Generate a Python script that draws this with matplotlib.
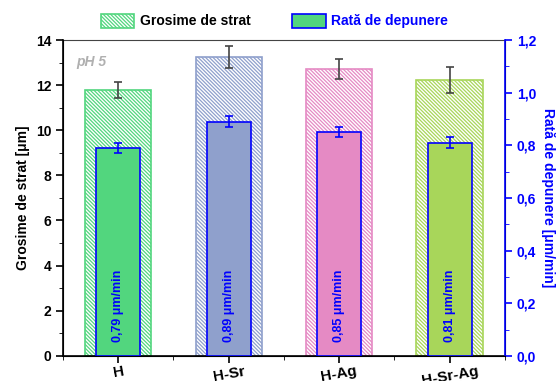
import matplotlib.pyplot as plt
import matplotlib.patches as mpatches
from matplotlib.ticker import MultipleLocator
import numpy as np

plt.rcParams['font.family'] = ['Liberation Sans', 'DejaVu Sans']
plt.rcParams['font.weight'] = 'bold'
plt.rcParams['hatch.linewidth'] = 0.9

samples = ['H', 'H-Sr', 'H-Ag', 'H-Sr-Ag']
thickness = [11.78, 13.25, 12.72, 12.23]
thickness_err = [0.35, 0.5, 0.45, 0.57]
rate = [0.79, 0.89, 0.85, 0.81]
rate_err = [0.02, 0.02, 0.02, 0.02]
rate_labels = ['0,79 μm/min', '0,89 μm/min', '0,85 μm/min', '0,81 μm/min']
colors = ['#52d67e', '#8fa0cc', '#e58ac4', '#a8d65a']

HATCH = '\\' * 9

fig = plt.figure(figsize=(5.6, 3.81), dpi=100)
ax = fig.add_axes([0.1125, 0.066, 0.789, 0.829])
ax2 = ax.twinx()

x = np.arange(1, len(samples) + 1)

for i in range(len(samples)):
    ax.bar(x[i], thickness[i], width=0.6, facecolor='white', edgecolor=colors[i],
           hatch=HATCH, linewidth=1.2)
ax.errorbar(x, thickness, yerr=thickness_err, fmt='none', ecolor='#444444',
            elinewidth=1.2, capsize=3, capthick=1.2)

for i in range(len(samples)):
    ax2.bar(x[i], rate[i], width=0.4, color=colors[i], edgecolor='#0000ff', linewidth=1.2)
    ax2.text(x[i], 0.19, rate_labels[i], rotation=90, ha='center', va='center',
             color='#0000ff', fontsize=9, fontweight='bold')
ax2.errorbar(x, rate, yerr=rate_err, fmt='none', ecolor='#0000ff',
             elinewidth=1.2, capsize=3, capthick=1.2)

ax.set_xlim(0.5, 4.5)
ax.set_ylim(0, 14)
ax2.set_ylim(0, 1.2)
ax.set_xticks(x)
ax.set_xticklabels(samples, rotation=10, fontsize=11, fontweight='bold')
ax.xaxis.set_minor_locator(MultipleLocator(0.5))
ax.yaxis.set_major_locator(MultipleLocator(2))
ax.yaxis.set_minor_locator(MultipleLocator(1))
ax2.set_yticks(np.arange(0, 1.21, 0.2))
ax2.set_yticklabels(['0,0', '0,2', '0,4', '0,6', '0,8', '1,0', '1,2'])
ax2.yaxis.set_minor_locator(MultipleLocator(0.1))

ax.tick_params(axis='y', labelsize=10, width=1.2, length=5)
ax.tick_params(axis='y', which='minor', length=3)
ax.tick_params(axis='x', width=1.2, length=5, pad=1)
ax.tick_params(axis='x', which='minor', length=3)
ax2.tick_params(axis='y', colors='#0000ff', labelsize=10, width=1.2, length=5)
ax2.tick_params(axis='y', which='minor', colors='#0000ff', length=3)

ax.set_ylabel('Grosime de strat [μm]', fontsize=10, fontweight='bold')
ax2.set_ylabel('Rată de depunere [μm/min]', fontsize=10, fontweight='bold',
               color='#0000ff', rotation=270, labelpad=14)

for s in ['left', 'bottom']:
    ax.spines[s].set_linewidth(1.2)
ax.spines['top'].set_color('#444444')
ax2.spines['right'].set_color('#0000ff')
ax2.spines['right'].set_linewidth(1.2)
ax2.spines['top'].set_visible(False)

ax.text(0.03, 0.93, 'pH 5', transform=ax.transAxes, fontsize=10, fontweight='bold',
        style='italic', color='#b0b0b0', va='center')

h1 = mpatches.Patch(facecolor='white', edgecolor=colors[0], hatch=HATCH, linewidth=1.2)
h2 = mpatches.Patch(facecolor=colors[0], edgecolor='#0000ff', linewidth=1.2)
leg = fig.legend([h1, h2], ['Grosime de strat', 'Rată de depunere'], ncol=2,
                 loc='center', bbox_to_anchor=(0.49, 0.945), frameon=False,
                 fontsize=10, handlelength=2.4, handleheight=1.2, handletextpad=0.4,
                 columnspacing=3)
leg.get_texts()[1].set_color('#0000ff')

fig.savefig('out.png', dpi=100)
